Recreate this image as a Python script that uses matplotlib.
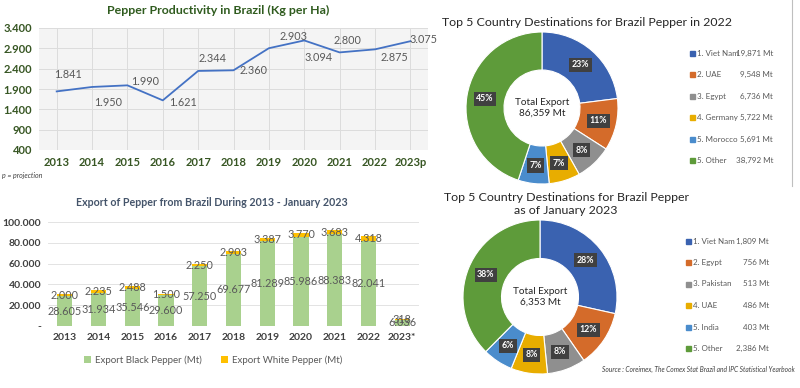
import numpy as np
import matplotlib
matplotlib.use("Agg")
import matplotlib.pyplot as plt
from matplotlib.lines import Line2D
from matplotlib.patches import Rectangle

plt.rcParams["font.family"] = ["Lato", "DejaVu Sans"]

# --- productivity line chart ---
prod_years = ["2013", "2014", "2015", "2016", "2017", "2018", "2019", "2020", "2021", "2022", "2023p"]
prod_vals = [1841, 1950, 1990, 1621, 2344, 2360, 2903, 3094, 2800, 2875, 3075]
prod_ticks = [400, 900, 1400, 1900, 2400, 2900, 3400]

# --- export bar chart ---
exp_years = ["2013", "2014", "2015", "2016", "2017", "2018", "2019", "2020", "2021", "2022", "2023*"]
black_pepper = [28605, 31934, 35546, 29600, 57250, 69677, 81289, 85986, 88383, 82041, 6036]
white_pepper = [2000, 2235, 2488, 1500, 2250, 2903, 3387, 3770, 3683, 4318, 318]

# --- destinations 2022 ---
dest22_names = ["1. Viet Nam", "2. UAE", "3. Egypt", "4. Germany", "5. Morocco", "5. Other"]
dest22_vals = [19871, 9548, 6736, 5722, 5691, 38792]
dest22_total = "86,359 Mt"

# --- destinations Jan 2023 ---
dest23_names = ["1. Viet Nam", "2. Egypt", "3. Pakistan", "4. UAE", "5. India", "5. Other"]
dest23_vals = [1809, 756, 513, 486, 403, 2386]
dest23_total = "6,353 Mt"

PIE_COLORS = ["#3a62b0", "#d46b2a", "#8f8f8f", "#e8ad00", "#4a8ccc", "#5e9b3a"]
GREEN_DARK = "#375623"
W, H = 800, 388

# label offsets (px right, px up) as placed in the original
LBL_OFF = [(11, 17), (16, -16), (18, 4), (20, -2), (14, 12), (20, 0),
           (25, 12), (14, -17), (8, 12), (19, -8), (13, 2)]


def fx(px):
    return px / W


def fy(py):
    return 1 - py / H


def dots(v):
    return f"{v:,}".replace(",", ".")


fig = plt.figure(figsize=(8, 3.88), dpi=100)
fig.patch.set_facecolor("white")

# ---------------- line chart ----------------
ax = fig.add_axes([fx(39), fy(150), fx(428) - fx(39), fy(28) - fy(150)])
x = np.arange(len(prod_years))
ax.set_facecolor("#f4f4f4")
ax.plot(x, prod_vals, color="#4472c4", lw=1.3, zorder=3)
ax.set_xlim(-0.5, len(x) - 0.5)
ax.set_ylim(400, 3400)
ax.set_yticks(prod_ticks)
ax.set_yticklabels([dots(t) for t in prod_ticks])
ax.set_xticks(x)
ax.set_xticklabels(prod_years)
ax.grid(True, color="#dcdcdc", lw=0.7)
ax.set_axisbelow(True)
for s in ax.spines.values():
    s.set_visible(False)
ax.tick_params(length=0, colors=GREEN_DARK, labelsize=8, pad=5)
for lab in ax.get_xticklabels() + ax.get_yticklabels():
    lab.set_fontweight("bold")
for i, v in enumerate(prod_vals):
    dx, dy = LBL_OFF[i]
    ax.annotate(dots(v), (i, v), textcoords="offset pixels", xytext=(dx, dy),
                ha="center", va="center", fontsize=7.8, color="#595959", zorder=4)
fig.text(fx(218), fy(10), "Pepper Productivity in Brazil (Kg per Ha)", ha="center", va="center",
         fontsize=8.9, fontweight="bold", color="#2f5b1e")
fig.text(fx(2), fy(176), "p = projection", fontsize=5, style="italic", color="#404040",
         va="center")

# ---------------- bar chart ----------------
bx = fig.add_axes([fx(48), fy(326), fx(419) - fx(48), fy(222) - fy(326)])
xb = np.arange(len(exp_years))
bx.bar(xb, black_pepper, width=0.45, color="#a9d18e", label="Export Black Pepper (Mt)", zorder=2)
bx.bar(xb, white_pepper, width=0.45, bottom=black_pepper, color="#ffc000",
       label="Export White Pepper (Mt)", zorder=2)
bx.set_ylim(0, 100000)
bx.set_xlim(-0.5, len(xb) - 0.5)
yt = [0, 20000, 40000, 60000, 80000, 100000]
bx.set_yticks(yt)
bx.set_yticklabels(["-"] + [dots(t) for t in yt[1:]])
bx.set_xticks(xb)
bx.set_xticklabels(exp_years)
bx.grid(True, axis="y", color="#e3e3e3", lw=0.7)
bx.set_axisbelow(True)
for s in bx.spines.values():
    s.set_visible(False)
bx.tick_params(length=0, colors="#404040", labelsize=7.5, pad=5)
for lab in bx.get_xticklabels() + bx.get_yticklabels():
    lab.set_fontweight("bold")
for i in range(len(xb)):
    b, w = black_pepper[i], white_pepper[i]
    bx.text(i, b / 2, dots(b), ha="center", va="center", fontsize=7.8, color="#595959", zorder=4)
    bx.text(i, b + w / 2, dots(w), ha="center", va="center", fontsize=7.8, color="#595959", zorder=4)
bx.legend(loc="upper center", bbox_to_anchor=(0.445, -0.2), ncol=2, frameon=False,
          fontsize=7, handlelength=0.7, handleheight=0.7, columnspacing=2.0,
          handletextpad=0.4, labelcolor="#595959")
fig.text(fx(212), fy(203), "Export of Pepper from Brazil During 2013 - January 2023",
         ha="center", va="center", fontsize=7.7, fontweight="bold", color="#44546a")


# ---------------- donut charts ----------------
def donut(cx, cy, r, vals, names, total, leg_sq, leg_val, leg_y0):
    pa = fig.add_axes([fx(cx - r), fy(cy + r), fx(2 * r), fy(0) - fy(2 * r)])
    wedges, _ = pa.pie(vals, colors=PIE_COLORS, startangle=90, counterclock=False,
                       radius=1, wedgeprops=dict(width=0.5, edgecolor="white", linewidth=0.8))
    pa.set_xlim(-1, 1)
    pa.set_ylim(-1, 1)
    pa.set_aspect("equal")
    tot = sum(vals)
    for wdg, v in zip(wedges, vals):
        ang = np.deg2rad((wdg.theta1 + wdg.theta2) / 2)
        pa.text(0.76 * np.cos(ang), 0.76 * np.sin(ang), f"{round(100 * v / tot)}%",
                ha="center", va="center", fontsize=6.3, fontweight="bold", color="white",
                bbox=dict(boxstyle="square,pad=0.3", fc="#404040", ec="none"))
    pa.text(0, 0, "Total Export\n" + total, ha="center", va="center", fontsize=7.2,
            color="#262626", linespacing=1.3)
    for k, (nm, v) in enumerate(zip(names, vals)):
        yy = leg_y0 + k * 21.5
        fig.add_artist(Rectangle((fx(leg_sq), fy(yy + 2.5)), fx(5), fy(0) - fy(5),
                                 transform=fig.transFigure, color=PIE_COLORS[k]))
        fig.text(fx(leg_sq + 7), fy(yy), nm, fontsize=5.8, color="#595959", va="center")
        fig.text(fx(leg_val), fy(yy), f"{v:,} Mt", fontsize=5.8, color="#595959",
                 va="center", ha="right")


donut(542, 108, 76, dest22_vals, dest22_names, dest22_total, 690, 773, 53)
donut(540, 297, 77, dest23_vals, dest23_names, dest23_total, 686, 769, 241)

fig.text(fx(587), fy(22), "Top 5 Country Destinations for Brazil Pepper in 2022",
         ha="center", va="center", fontsize=8.9, color="#262626")
fig.text(fx(566), fy(204), "Top 5 Country Destinations for Brazil Pepper\nas of January 2023",
         ha="center", va="center", fontsize=8.9, color="#262626", linespacing=1.15)
fig.text(fx(795), fy(369), "Source : Coreimex, The Comex Stat Brazil and IPC Statistical Yearbook",
         ha="right", va="center", fontsize=4.8, style="italic", color="#404040")
fig.add_artist(Line2D([fx(792), fx(792)], [fy(0), fy(186)], transform=fig.transFigure,
                      color="#bfbfbf", lw=0.8))

fig.savefig("out.png", dpi=100)
